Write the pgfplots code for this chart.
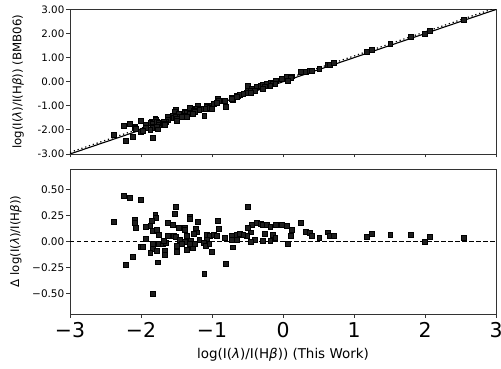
\documentclass[border=0pt]{standalone}
\usepackage{fontspec}
\setmainfont{DejaVu Sans}
\usepackage{pgfplots}
\pgfplotsset{compat=1.18}
\usepackage{pgfplotstable}
\definecolor{pts}{HTML}{1E1E1E}
\definecolor{spine}{HTML}{333333}
\pgfplotstableread{
x y d
-2.25 -1.81 0.44
-2.16 -1.74 0.42
-2.00 -1.60 0.40
-2.38 -2.19 0.19
-2.09 -1.88 0.21
-2.09 -1.91 0.18
-2.08 -1.945 0.135
-1.80 -1.54 0.26
-1.79 -1.56 0.23
-1.85 -1.65 0.20
-1.87 -1.715 0.155
-1.93 -1.79 0.14
-1.62 -1.44 0.18
-1.84 -1.74 0.10
-1.78 -1.67 0.11
-1.75 -1.685 0.065
-1.62 -1.562 0.058
-1.94 -1.914 0.026
-2.01 -2.06 -0.05
-1.97 -2.02 -0.05
-1.83 -1.85 -0.02
-1.75 -1.77 -0.02
-1.69 -1.71 -0.02
-1.65 -1.66 -0.01
-1.83 -1.90 -0.07
-1.87 -1.98 -0.11
-1.78 -1.87 -0.09
-2.12 -2.265 -0.145
-1.77 -1.97 -0.20
-2.21 -2.435 -0.225
-1.83 -2.335 -0.505
-1.51 -1.17 0.34
-1.52 -1.25 0.27
-1.32 -1.08 0.24
-1.31 -1.09 0.22
-1.55 -1.39 0.16
-1.20 -1.01 0.19
-1.47 -1.34 0.13
-1.39 -1.26 0.13
-1.39 -1.28 0.11
-1.23 -1.11 0.12
-1.22 -1.13 0.09
-0.92 -0.72 0.20
-0.90 -0.78 0.12
-1.54 -1.485 0.055
-1.51 -1.46 0.05
-1.36 -1.302 0.058
-1.26 -1.186 0.074
-1.07 -1.005 0.065
-1.03 -0.972 0.058
-0.98 -0.915 0.065
-0.94 -0.882 0.058
-0.82 -0.78 0.04
-0.73 -0.68 0.05
-0.64 -0.57 0.07
-1.68 -1.67 0.01
-1.45 -1.43 0.02
-1.39 -1.39 0.0
-1.30 -1.293 0.007
-1.18 -1.16 0.02
-1.07 -1.05 0.02
-1.50 -1.54 -0.04
-1.43 -1.45 -0.02
-1.31 -1.33 -0.02
-1.24 -1.26 -0.02
-1.12 -1.13 -0.01
-1.09 -1.13 -0.04
-1.04 -1.06 -0.02
-1.67 -1.76 -0.09
-1.67 -1.795 -0.125
-1.50 -1.60 -0.10
-1.36 -1.44 -0.08
-1.27 -1.335 -0.065
-1.01 -1.11 -0.10
-0.71 -0.765 -0.055
-0.81 -1.02 -0.21
-1.11 -1.425 -0.315
-0.50 -0.16 0.34
-0.44 -0.28 0.16
-0.37 -0.19 0.18
-0.32 -0.15 0.17
-0.28 -0.12 0.16
-0.23 -0.065 0.165
-0.18 -0.04 0.14
-0.10 0.065 0.165
-0.02 0.14 0.16
0.05 0.205 0.155
0.25 0.43 0.18
-0.50 -0.37 0.13
-0.46 -0.37 0.09
-0.51 -0.452 0.058
-0.72 -0.662 0.058
-0.65 -0.585 0.065
-0.61 -0.536 0.074
-0.56 -0.495 0.065
-0.26 -0.186 0.074
-0.15 -0.085 0.065
-0.11 -0.07 0.04
0.12 0.23 0.11
0.11 0.168 0.058
-0.72 -0.703 0.017
-0.65 -0.63 0.02
-0.40 -0.383 0.017
-0.18 -0.17 0.01
-0.46 -0.465 -0.005
-0.29 -0.28 0.01
0.07 0.05 -0.02
0.32 0.417 0.097
0.37 0.454 0.084
0.40 0.458 0.058
0.51 0.55 0.04
0.63 0.72 0.09
0.66 0.718 0.058
0.72 0.778 0.058
1.18 1.23 0.05
1.25 1.327 0.077
1.51 1.575 0.065
1.80 1.865 0.065
2.00 2.00 0.0
2.07 2.118 0.048
2.55 2.59 0.04
}\data
\pgfplotsset{
  every axis/.append style={
    scale only axis, width=426bp, xmin=-3, xmax=3,
    axis line style={spine, line width=0.9bp},
    tick style={spine, line width=0.9bp},
    tick align=outside, major tick length=3.5bp,
    xtick pos=left, ytick pos=left,
    xtick={-3,-2,-1,0,1,2,3},
  },
}
\begin{document}
\begin{tikzpicture}
\begin{axis}[
  at={(0,0)}, anchor=north west, height=144.5bp,
  ymin=-3, ymax=3,
  xticklabels={},
  ytick={-3,-2,-1,0,1,2,3},
  yticklabels={-3.00,-2.00,-1.00,0.00,1.00,2.00,3.00},
  yticklabel style={font=\fontsize{10.3}{11}\selectfont, inner sep=2bp},
  ylabel={log(I(\textit{λ})/I(H\textit{β})) (BMB06)},
  ylabel style={at={(axis description cs:-0.122,0.5)}, anchor=center, font=\fontsize{11.8}{13}\selectfont},
]
\addplot[black, line width=1.1bp] coordinates {(-3,-3) (3,3)};
\addplot[black, line width=1.2bp, dash pattern=on 1.2bp off 2.8bp] coordinates {(-3,-2.93) (3,3.07)};
\addplot[only marks, mark=square*, mark size=2.45bp, mark options={fill=pts, draw=none}] table[x=x, y=y] {\data};
\end{axis}
\begin{axis}[
  at={(0,-159.5bp)}, anchor=north west, height=145bp,
  ymin=-0.7, ymax=0.7,
  xticklabels={−3,−2,−1,0,1,2,3},
  xticklabel style={font=\fontsize{20.5}{22}\selectfont, yshift=-1.5bp},
  ytick={-0.5,-0.25,0,0.25,0.5},
  yticklabels={−0.50,−0.25,0.00,0.25,0.50},
  yticklabel style={font=\fontsize{10.5}{11}\selectfont, inner sep=2bp},
  ylabel={Δ log(I(\textit{λ})/I(H\textit{β}))},
  ylabel style={at={(axis description cs:-0.127,0.5)}, anchor=center, font=\fontsize{11.8}{13}\selectfont},
  xlabel={log(I(\textit{λ})/I(H\textit{β})) (This Work)},
  xlabel style={at={(axis description cs:0.5,0)}, anchor=center, yshift=-41bp, font=\fontsize{13.5}{15}\selectfont},
]
\addplot[black, line width=1.3bp, dash pattern=on 4.5bp off 2.5bp] coordinates {(-3,0) (3,0)};
\addplot[only marks, mark=square*, mark size=2.45bp, mark options={fill=pts, draw=none}] table[x=x, y=d] {\data};
\end{axis}
\pgfresetboundingbox
\path (-70bp,9.5bp) rectangle (431bp,-359.5bp);
\end{tikzpicture}
\end{document}
